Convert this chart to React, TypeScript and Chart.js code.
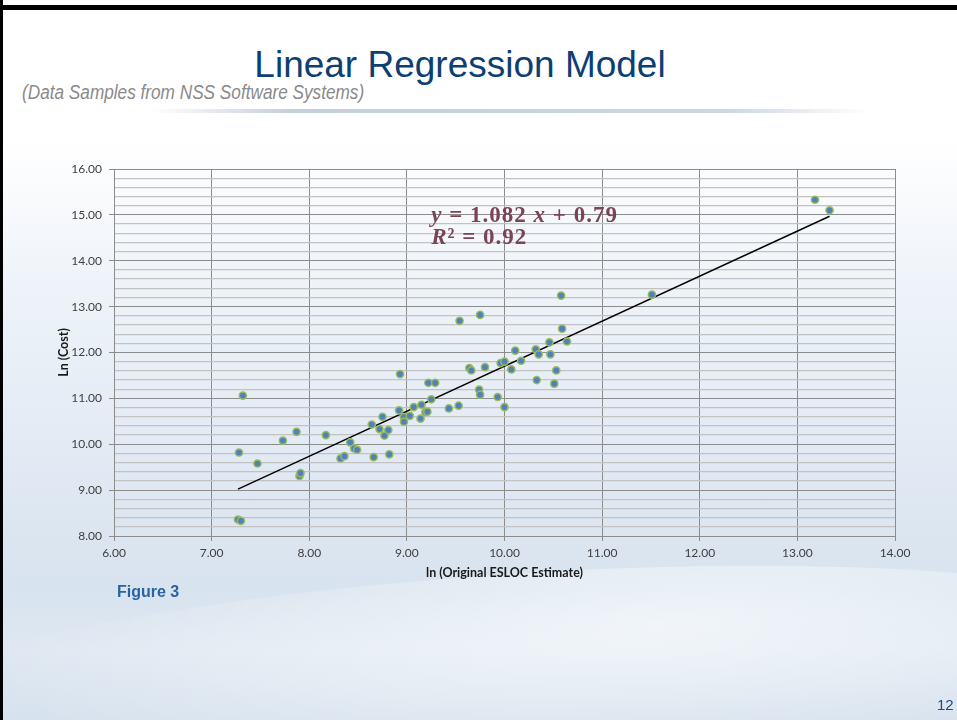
import React, { useEffect, useRef } from "react";
import { Chart, registerables } from "chart.js";

Chart.register(...registerables);

// ln(Original ESLOC Estimate)
const lnEsloc = [
  7.27, 7.30, 7.28, 7.32, 7.47, 7.73, 7.87, 7.90, 7.91, 8.17,
  8.32, 8.36, 8.42, 8.46, 8.49, 8.64, 8.66, 8.72, 8.75, 8.77,
  8.81, 8.82, 8.92, 8.93, 8.97, 8.97, 9.03, 9.07, 9.14, 9.15,
  9.19, 9.21, 9.22, 9.25, 9.29, 9.43, 9.53, 9.54, 9.64, 9.66,
  9.74, 9.75, 9.75, 9.80, 9.93, 9.96, 10.00, 10.00, 10.07, 10.11,
  10.17, 10.32, 10.33, 10.35, 10.46, 10.47, 10.51, 10.53, 10.58, 10.59,
  10.64, 11.51, 13.18, 13.33,
];
// ln(Cost)
const lnCost = [
  8.36, 8.33, 9.82, 11.06, 9.58, 10.08, 10.27, 9.31, 9.37, 10.20,
  9.69, 9.74, 10.04, 9.91, 9.88, 10.43, 9.72, 10.33, 10.60, 10.19,
  10.31, 9.78, 10.74, 11.53, 10.59, 10.49, 10.62, 10.81, 10.56, 10.86,
  10.70, 10.71, 11.34, 10.98, 11.34, 10.78, 10.84, 12.69, 11.66, 11.61,
  11.19, 11.08, 12.82, 11.68, 11.03, 11.77, 11.80, 10.81, 11.63, 12.04,
  11.82, 12.07, 11.40, 11.96, 12.22, 11.96, 11.32, 11.61, 13.24, 12.52,
  12.24, 13.26, 15.33, 15.10,
];
// trend line as drawn in the figure
const trendX = [7.27, 13.33];
const trendY = [9.02, 14.97];

const xMin = 6, xMax = 14, xStep = 1;
const yMin = 8, yMax = 16, yMinorStep = 0.2;

const equationLine1 = ["y", " = 1.082 ", "x", " + 0.79"];
const equationLine2 = ["R", "² = 0.92"];

const isMajor = (v: number) => Math.abs(v - Math.round(v)) < 1e-6;

const equationPlugin = {
  id: "equation",
  afterDatasetsDraw(chart: any) {
    const ctx = chart.ctx;
    const xs = chart.scales.x;
    const ys = chart.scales.y;
    const x0 = xs.getPixelForValue(9.25);
    ctx.save();
    ctx.fillStyle = "#7b4455";
    ctx.textBaseline = "alphabetic";
    try { (ctx as any).letterSpacing = "1px"; } catch (e) { /* ignore */ }
    const drawLine = (parts: string[], yv: number) => {
      let x = x0;
      const y = ys.getPixelForValue(yv);
      parts.forEach((p, i) => {
        const italic = i % 2 === 0;
        ctx.font = (italic ? "italic " : "") + "bold 23px 'Liberation Serif'";
        ctx.fillText(p, x, y);
        x += ctx.measureText(p).width;
      });
    };
    drawLine(equationLine1, 14.84);
    drawLine(equationLine2, 14.36);
    ctx.restore();
  },
};

export default function App() {
  const canvasRef = useRef<HTMLCanvasElement | null>(null);

  useEffect(() => {
    if (!canvasRef.current) return;
    const points = lnEsloc.map((x, i) => ({ x, y: lnCost[i] }));
    const trend = trendX.map((x, i) => ({ x, y: trendY[i] }));
    const chart = new Chart(canvasRef.current, {
      type: "scatter",
      data: {
        datasets: [
          {
            label: "Samples",
            data: points,
            backgroundColor: "#4f81bd",
            borderColor: "#9bbb59",
            borderWidth: 1.5,
            pointRadius: 3.6,
          },
          {
            label: "Trend",
            data: trend,
            showLine: true,
            borderColor: "#000000",
            borderWidth: 1.4,
            pointRadius: 0,
            fill: false,
          },
        ],
      },
      options: {
        animation: false,
        responsive: false,
        maintainAspectRatio: false,
        layout: { padding: { left: 54, right: 62, top: 169, bottom: 136 } },
        plugins: { legend: { display: false }, tooltip: { enabled: false } },
        scales: {
          x: {
            type: "linear",
            min: xMin,
            max: xMax,
            afterFit: (s: any) => { s.height = 48; },
            ticks: {
              stepSize: xStep,
              padding: 5,
              color: "#404040",
              font: { family: "Lato", size: 12 },
              callback: (v: any) => Number(v).toFixed(2),
            },
            grid: { color: "#8c8c8c", lineWidth: 1, tickLength: 5, tickColor: "#8c8c8c" },
            border: { display: true, color: "#8c8c8c" },
            title: {
              display: true,
              text: "ln (Original ESLOC Estimate)",
              color: "#1a1a1a",
              font: { family: "Lato", size: 12.5, weight: "bold" },
              padding: { top: 2, bottom: 4 },
            },
          },
          y: {
            type: "linear",
            min: yMin,
            max: yMax,
            afterFit: (s: any) => { s.width = 60; },
            ticks: {
              stepSize: yMinorStep,
              autoSkip: false,
              maxTicksLimit: 100,
              padding: 7,
              color: "#404040",
              font: { family: "Lato", size: 12 },
              callback: (v: any) => (isMajor(Number(v)) ? Number(v).toFixed(2) : ""),
            },
            grid: {
              color: (c: any) => (isMajor(c.tick.value) ? "#8c8c8c" : "#c2c2c2"),
              lineWidth: (c: any) => (isMajor(c.tick.value) ? 1 : 1.3),
              tickLength: 5,
              tickColor: (c: any) => (isMajor(c.tick.value) ? "#8c8c8c" : "rgba(0,0,0,0)"),
            },
            border: { display: true, color: "#8c8c8c" },
            title: {
              display: true,
              text: "Ln (Cost)",
              color: "#1a1a1a",
              font: { family: "Lato", size: 12.5, weight: "bold" },
              padding: { top: 2, bottom: 4 },
            },
          },
        },
      },
      plugins: [equationPlugin],
    });
    return () => chart.destroy();
  }, []);

  return (
    <div
      style={{
        position: "absolute",
        left: 0,
        top: 0,
        width: 957,
        height: 720,
        overflow: "hidden",
        background:
          "linear-gradient(180deg, #ffffff 0px, #ffffff 140px, #eef3f9 290px, #e2eaf4 450px, #d7e3ef 590px, #dfe8f2 650px, #d6e2ee 720px)",
        fontFamily: "'Liberation Sans', Arial, sans-serif",
      }}
    >
      <div
        style={{
          position: "absolute",
          left: -200,
          top: 575,
          width: 1400,
          height: 240,
          borderRadius: "50%",
          background: "radial-gradient(ellipse at 62% 25%, rgba(255,255,255,0.6), rgba(255,255,255,0) 55%)",
          transform: "rotate(-4deg)",
        }}
      />
      <div style={{ position: "absolute", left: 0, top: 5, width: 957, height: 5, background: "#000" }} />
      <div style={{ position: "absolute", left: 0, top: 0, width: 3, height: 720, background: "#000" }} />
      <div
        style={{
          position: "absolute",
          left: 460,
          top: 46,
          transform: "translateX(-50%)",
          whiteSpace: "nowrap",
          fontSize: 37,
          lineHeight: "37px",
          color: "#0e3f73",
        }}
      >
        Linear Regression Model
      </div>
      <div
        style={{
          position: "absolute",
          left: 22,
          top: 82,
          whiteSpace: "nowrap",
          fontSize: 20,
          lineHeight: "20px",
          fontStyle: "italic",
          color: "#8a8a8a",
          transform: "scaleX(0.86)",
          transformOrigin: "0 0",
        }}
      >
        (Data Samples from NSS Software Systems)
      </div>
      <div
        style={{
          position: "absolute",
          left: 150,
          top: 109,
          width: 720,
          height: 4,
          background:
            "linear-gradient(90deg, rgba(190,200,215,0) 0%, rgba(190,200,215,0.9) 20%, rgba(200,210,222,0.9) 80%, rgba(200,210,222,0) 100%)",
        }}
      />
      <canvas
        ref={canvasRef}
        width={957}
        height={720}
        style={{ position: "absolute", left: 0, top: 0, width: 957, height: 720 }}
      />
      <div
        style={{
          position: "absolute",
          left: 117,
          top: 583,
          fontSize: 16,
          lineHeight: "18px",
          fontWeight: "bold",
          color: "#2a63a0",
          whiteSpace: "nowrap",
        }}
      >
        Figure 3
      </div>
      <div
        style={{
          position: "absolute",
          left: 937,
          top: 697,
          fontSize: 15,
          lineHeight: "16px",
          color: "#1f4a7c",
        }}
      >
        12
      </div>
    </div>
  );
}
